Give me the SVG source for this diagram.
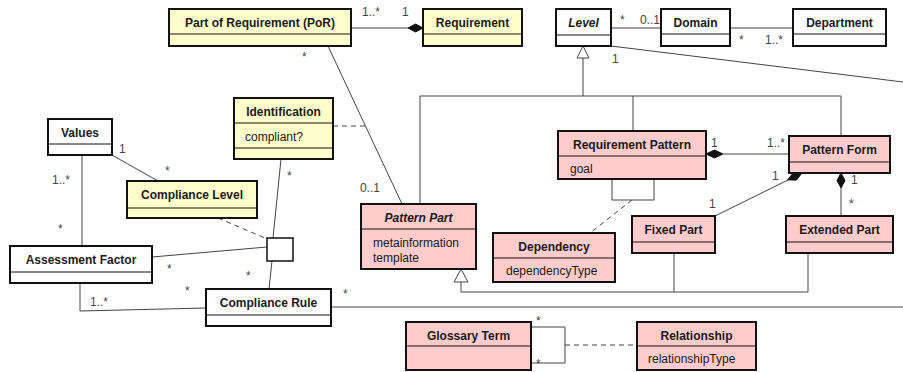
<svg xmlns="http://www.w3.org/2000/svg" width="903" height="372" viewBox="0 0 903 372">
<style>
.box{stroke:#111;stroke-width:2}
.dv{stroke:#111;stroke-width:1}
.y{fill:#FFFFCC}
.p{fill:#FFCCCC}
.w{fill:#FFFFFF}
text{font-family:"Liberation Sans",Arial,sans-serif;fill:#1a1a1a}
.t{font-size:12px;font-weight:bold;text-anchor:middle}
.i{font-style:italic}
.a{font-size:12px}
.m{font-size:12px;fill:#444}
.ln{stroke:#444;stroke-width:1;fill:none}
.ds{stroke-dasharray:5,4}
.dia{fill:#111;stroke:#111;stroke-width:1}
.gen{fill:#fff;stroke:#444;stroke-width:1}
</style>
<rect width="903" height="372" fill="#fff"/>
<g id="connectors">
  <!-- PoR - Requirement composition -->
  <line class="ln" x1="351" y1="28" x2="408" y2="28"/>
  <polygon class="dia" points="423,28 415.5,24 408,28 415.5,32"/>
  <text class="m" x="362" y="16">1..*</text>
  <text class="m" x="402" y="16">1</text>
  <!-- Level - Domain -->
  <line class="ln" x1="611" y1="28" x2="661" y2="28"/>
  <text class="m" x="620" y="24">*</text>
  <text class="m" x="640" y="24">0..1</text>
  <!-- Domain - Department -->
  <line class="ln" x1="730" y1="28" x2="793" y2="28"/>
  <text class="m" x="739" y="44">*</text>
  <text class="m" x="765" y="44">1..*</text>
  <!-- Level to right edge -->
  <line class="ln" x1="611" y1="46" x2="903" y2="82"/>
  <text class="m" x="612" y="63">1</text>
  <!-- Generalization to Level -->
  <polyline class="ln" points="583,58 583,96"/>
  <polyline class="ln" points="420,204 420,96 841,96 841,136"/>
  <line class="ln" x1="633" y1="96" x2="633" y2="131"/>
  <polygon class="gen" points="583,46 577,58 589,58"/>
  <!-- PoR - Pattern Part -->
  <line class="ln" x1="328" y1="46" x2="402" y2="204"/>
  <text class="m" x="302" y="61">*</text>
  <text class="m" x="360" y="192">0..1</text>
  <line class="ln ds" x1="333" y1="126" x2="365" y2="126"/>
  <!-- Values - Compliance Level -->
  <line class="ln" x1="112" y1="155" x2="158" y2="181"/>
  <text class="m" x="119" y="153">1</text>
  <text class="m" x="165" y="175">*</text>
  <!-- Values - Assessment Factor -->
  <line class="ln" x1="82" y1="155" x2="82" y2="246"/>
  <text class="m" x="52" y="184">1..*</text>
  <text class="m" x="58" y="233">*</text>
  <!-- Association class links -->
  <line class="ln" x1="152" y1="257" x2="267" y2="247"/>
  <text class="m" x="167" y="273">*</text>
  <line class="ln" x1="281" y1="159" x2="273" y2="238"/>
  <text class="m" x="287" y="180">*</text>
  <line class="ln" x1="272" y1="261" x2="269" y2="289"/>
  <text class="m" x="246" y="280">*</text>
  <line class="ln ds" x1="218" y1="218" x2="265" y2="238"/>
  <!-- Assessment Factor - Compliance Rule -->
  <polyline class="ln" points="80,283 80,311 206,308"/>
  <text class="m" x="90" y="306">1..*</text>
  <text class="m" x="185" y="295">*</text>
  <!-- Compliance Rule to right edge -->
  <line class="ln" x1="331" y1="307" x2="903" y2="307"/>
  <text class="m" x="343" y="298">*</text>
  <!-- Generalization to Pattern Part -->
  <polyline class="ln" points="461,282 461,292 808,292 808,253"/>
  <line class="ln" x1="674" y1="253" x2="674" y2="292"/>
  <polygon class="gen" points="461,269 454,282 468,282"/>
  <!-- Requirement Pattern self loop + Dependency -->
  <polyline class="ln" points="612,179 612,200 654,200 654,179"/>
  <line class="ln ds" x1="632" y1="200" x2="590" y2="233"/>
  <!-- Requirement Pattern - Pattern Form -->
  <line class="ln" x1="723" y1="154" x2="789" y2="154"/>
  <polygon class="dia" points="706,154 714.5,150 723,154 714.5,158"/>
  <text class="m" x="711" y="147">1</text>
  <text class="m" x="767" y="147">1..*</text>
  <!-- Pattern Form - Fixed Part -->
  <line class="ln" x1="715" y1="216" x2="788" y2="180"/>
  <polygon class="dia" points="802,173 796.5,180.1 787.6,179.9 793.1,172.9"/>
  <text class="m" x="772" y="180">1</text>
  <text class="m" x="709" y="208">1</text>
  <!-- Pattern Form - Extended Part -->
  <line class="ln" x1="841" y1="188" x2="841" y2="216"/>
  <polygon class="dia" points="841,173 845,180.5 841,188 837,180.5"/>
  <text class="m" x="851" y="184">1</text>
  <text class="m" x="849" y="208">*</text>
  <!-- Glossary Term self loop + Relationship -->
  <polyline class="ln" points="531,327 565,327 565,363 531,363"/>
  <text class="m" x="536" y="325">*</text>
  <text class="m" x="536" y="368">*</text>
  <line class="ln ds" x1="565" y1="345" x2="637" y2="345"/>
</g>
<g id="por">
  <rect class="box y" x="169" y="9" width="182" height="37"/>
  <line class="dv" x1="169" y1="34" x2="351" y2="34"/>
  <text class="t" x="260" y="27">Part of Requirement (PoR)</text>
</g>
<g id="requirement">
  <rect class="box y" x="423" y="9" width="99" height="37"/>
  <line class="dv" x1="423" y1="34" x2="522" y2="34"/>
  <text class="t" x="472.5" y="27">Requirement</text>
</g>
<g id="level">
  <rect class="box w" x="556" y="9" width="55" height="37"/>
  <line class="dv" x1="556" y1="35" x2="611" y2="35"/>
  <text class="t i" x="583.5" y="27">Level</text>
</g>
<g id="domain">
  <rect class="box w" x="661" y="9" width="69" height="37"/>
  <line class="dv" x1="661" y1="34" x2="730" y2="34"/>
  <text class="t" x="695.5" y="27">Domain</text>
</g>
<g id="department">
  <rect class="box w" x="793" y="9" width="93" height="37"/>
  <line class="dv" x1="793" y1="34" x2="886" y2="34"/>
  <text class="t" x="839.5" y="27">Department</text>
</g>
<g id="values">
  <rect class="box w" x="48" y="119" width="64" height="36"/>
  <line class="dv" x1="48" y1="144" x2="112" y2="144"/>
  <text class="t" x="80" y="137">Values</text>
</g>
<g id="identification">
  <rect class="box y" x="234" y="98" width="99" height="61"/>
  <line class="dv" x1="234" y1="123" x2="333" y2="123"/>
  <line class="dv" x1="234" y1="148" x2="333" y2="148"/>
  <text class="t" x="283.5" y="116">Identification</text>
  <text class="a" x="245" y="141">compliant?</text>
</g>
<g id="compliance-level">
  <rect class="box y" x="127" y="181" width="130" height="37"/>
  <line class="dv" x1="127" y1="208" x2="257" y2="208"/>
  <text class="t" x="192" y="199">Compliance Level</text>
</g>
<g id="assessment-factor">
  <rect class="box w" x="10" y="246" width="142" height="37"/>
  <line class="dv" x1="10" y1="272" x2="152" y2="272"/>
  <text class="t" x="81" y="264">Assessment Factor</text>
</g>
<g id="compliance-rule">
  <rect class="box w" x="206" y="289" width="125" height="37"/>
  <line class="dv" x1="206" y1="315" x2="331" y2="315"/>
  <text class="t" x="268.5" y="307">Compliance Rule</text>
</g>
<g id="assoc-class-node">
  <rect x="267" y="238" width="26" height="23" fill="#fff" stroke="#111" stroke-width="1.5"/>
</g>
<g id="requirement-pattern">
  <rect class="box p" x="558" y="131" width="148" height="48"/>
  <line class="dv" x1="558" y1="156" x2="706" y2="156"/>
  <text class="t" x="632" y="149">Requirement Pattern</text>
  <text class="a" x="570" y="173">goal</text>
</g>
<g id="pattern-form">
  <rect class="box p" x="789" y="136" width="101" height="37"/>
  <line class="dv" x1="789" y1="162" x2="890" y2="162"/>
  <text class="t" x="839.5" y="154">Pattern Form</text>
</g>
<g id="pattern-part">
  <rect class="box p" x="361" y="204" width="115" height="65"/>
  <line class="dv" x1="361" y1="229" x2="476" y2="229"/>
  <text class="t i" x="418.5" y="222">Pattern Part</text>
  <text class="a" x="373" y="247">metainformation</text>
  <text class="a" x="373" y="262">template</text>
</g>
<g id="dependency">
  <rect class="box p" x="493" y="233" width="122" height="49"/>
  <line class="dv" x1="493" y1="258" x2="615" y2="258"/>
  <text class="t" x="554" y="251">Dependency</text>
  <text class="a" x="506" y="275">dependencyType</text>
</g>
<g id="fixed-part">
  <rect class="box p" x="632" y="216" width="83" height="37"/>
  <line class="dv" x1="632" y1="242" x2="715" y2="242"/>
  <text class="t" x="673.5" y="234">Fixed Part</text>
</g>
<g id="extended-part">
  <rect class="box p" x="786" y="216" width="107" height="37"/>
  <line class="dv" x1="786" y1="242" x2="893" y2="242"/>
  <text class="t" x="839.5" y="234">Extended Part</text>
</g>
<g id="glossary-term">
  <rect class="box p" x="406" y="322" width="125" height="48"/>
  <line class="dv" x1="406" y1="346" x2="531" y2="346"/>
  <text class="t" x="468.5" y="340">Glossary Term</text>
</g>
<g id="relationship">
  <rect class="box p" x="637" y="322" width="119" height="48"/>
  <line class="dv" x1="637" y1="346" x2="756" y2="346"/>
  <text class="t" x="696.5" y="340">Relationship</text>
  <text class="a" x="648" y="363">relationshipType</text>
</g>
</svg>
